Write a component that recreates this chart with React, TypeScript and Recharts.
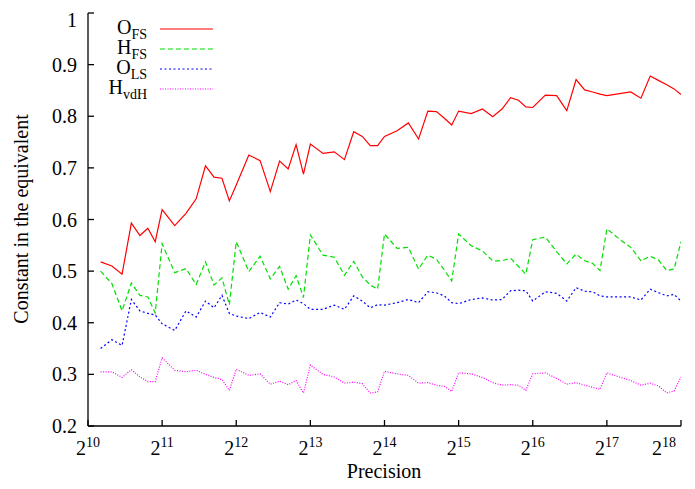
import { LineChart, Line, XAxis, YAxis, Customized } from "recharts";

const precision = [
  1152, 1280, 1408, 1536, 1664, 1792, 1920, 2048,
  2304, 2560, 2816, 3072, 3328, 3584, 3840, 4096,
  4608, 5120, 5632, 6144, 6656, 7168, 7680, 8192,
  9216, 10240, 11264, 12288, 13312, 14336, 15360, 16384,
  18432, 20480, 22528, 24576, 26624, 28672, 30720, 32768,
  36864, 40960, 45056, 49152, 53248, 57344, 61440, 65536,
  73728, 81920, 90112, 98304, 106496, 114688, 122880, 131072,
  147456, 163840, 180224, 196608, 212992, 229376, 245760, 262144,
];

const oFS = [
  0.518, 0.51, 0.494, 0.593, 0.569, 0.583, 0.557, 0.619,
  0.588, 0.612, 0.64, 0.704, 0.682, 0.68, 0.636, 0.667,
  0.725, 0.714, 0.654, 0.713, 0.698, 0.745, 0.688, 0.746,
  0.728, 0.731, 0.716, 0.77, 0.761, 0.743, 0.743, 0.761,
  0.772, 0.787, 0.756, 0.81, 0.809, 0.796, 0.783, 0.81,
  0.805, 0.814, 0.799, 0.814, 0.836, 0.831, 0.818, 0.817,
  0.841, 0.84, 0.811, 0.871, 0.851, 0.847, 0.843, 0.84,
  0.844, 0.847, 0.835, 0.878, 0.869, 0.861, 0.853, 0.842,
];

const hFS = [
  0.5, 0.476, 0.423, 0.477, 0.453, 0.45, 0.419, 0.553,
  0.497, 0.505, 0.474, 0.518, 0.473, 0.487, 0.435, 0.557,
  0.499, 0.529, 0.485, 0.509, 0.465, 0.491, 0.449, 0.57,
  0.531, 0.527, 0.492, 0.519, 0.489, 0.473, 0.465, 0.572,
  0.544, 0.546, 0.504, 0.531, 0.523, 0.502, 0.481, 0.572,
  0.549, 0.539, 0.52, 0.52, 0.525, 0.509, 0.494, 0.561,
  0.566, 0.538, 0.514, 0.533, 0.52, 0.515, 0.501, 0.582,
  0.562, 0.546, 0.52, 0.529, 0.521, 0.501, 0.504, 0.557,
];

const oLS = [
  0.35, 0.367, 0.356, 0.445, 0.423, 0.418, 0.415, 0.398,
  0.385, 0.423, 0.411, 0.442, 0.429, 0.453, 0.418, 0.413,
  0.408, 0.42, 0.411, 0.439, 0.436, 0.444, 0.437, 0.426,
  0.426, 0.434, 0.426, 0.452, 0.442, 0.429, 0.435, 0.434,
  0.439, 0.445, 0.439, 0.46, 0.458, 0.452, 0.439, 0.437,
  0.445, 0.448, 0.444, 0.445, 0.462, 0.463, 0.462, 0.442,
  0.46, 0.457, 0.442, 0.468, 0.461, 0.46, 0.452, 0.45,
  0.45, 0.45, 0.444, 0.465, 0.458, 0.452, 0.455, 0.442,
];

const hVdH = [
  0.305, 0.305, 0.294, 0.309, 0.295, 0.286, 0.286, 0.332,
  0.308, 0.305, 0.308, 0.3, 0.294, 0.29, 0.269, 0.31,
  0.298, 0.301, 0.281, 0.287, 0.28, 0.288, 0.264, 0.318,
  0.3, 0.295, 0.283, 0.285, 0.282, 0.264, 0.266, 0.306,
  0.301, 0.298, 0.283, 0.284, 0.279, 0.277, 0.267, 0.303,
  0.301, 0.294, 0.284, 0.279, 0.28, 0.279, 0.269, 0.301,
  0.303, 0.292, 0.281, 0.284, 0.279, 0.275, 0.271, 0.303,
  0.295, 0.288, 0.279, 0.283, 0.277, 0.264, 0.268, 0.295,
];

const xTicks = [1024, 2048, 4096, 8192, 16384, 32768, 65536, 131072, 262144];
const yTicks = [0.2, 0.3, 0.4, 0.5, 0.6, 0.7, 0.8, 0.9, 1.0];

const series = [
  { key: "oFS", name: "O", sub: "FS", color: "#ff0000", dash: undefined },
  { key: "hFS", name: "H", sub: "FS", color: "#00e000", dash: "5 3" },
  { key: "oLS", name: "O", sub: "LS", color: "#0000ff", dash: "2 2.5" },
  { key: "hVdH", name: "H", sub: "vdH", color: "#ff00ff", dash: "1 1.5" },
];

const data = precision.map((p, i) => ({
  p,
  oFS: oFS[i],
  hFS: hFS[i],
  oLS: oLS[i],
  hVdH: hVdH[i],
}));

const FONT = "'Liberation Serif', 'Times New Roman', serif";

function PowTick(props: any) {
  const { x, payload } = props;
  const exp = Math.round(Math.log2(payload.value));
  return (
    <text x={x} y={447} textAnchor="middle" fontFamily={FONT} fontSize={20} fill="#000">
      <tspan>2</tspan>
      <tspan dy={-8} fontSize={14}>
        {exp}
      </tspan>
    </text>
  );
}

function Decorations() {
  return (
    <g fontFamily={FONT} fill="#000">
      {series.map((s, i) => (
        <g key={s.key}>
          <text x={139} y={26 + i * 20} textAnchor="end" fontSize={20}>
            <tspan>{s.name}</tspan>
            <tspan dy={5} fontSize={14}>
              {s.sub}
            </tspan>
          </text>
          <line
            x1={152}
            x2={205}
            y1={21 + i * 20}
            y2={21 + i * 20}
            stroke={s.color}
            strokeWidth={1.2}
            strokeDasharray={s.dash}
          />
        </g>
      ))}
      <text
        transform="translate(20,211) rotate(-90)"
        textAnchor="middle"
        fontSize={20}
      >
        Constant in the equivalent
      </text>
      <text x={376} y={470} textAnchor="middle" fontSize={20}>
        Precision
      </text>
    </g>
  );
}

export default function App() {
  return (
    <LineChart
      width={680}
      height={480}
      data={data}
      margin={{ top: 5, right: 7, bottom: 0, left: 0 }}
    >
      <XAxis
        dataKey="p"
        type="number"
        scale="log"
        domain={[1024, 262144]}
        ticks={xTicks}
        allowDataOverflow
        height={62}
        tickSize={-6}
        tick={<PowTick />}
        stroke="#000"
        strokeWidth={1.3}
      />
      <XAxis
        xAxisId="top"
        orientation="top"
        dataKey="p"
        type="number"
        scale="log"
        domain={[1024, 262144]}
        ticks={xTicks}
        allowDataOverflow
        height={0}
        tickSize={-6}
        tick={false}
        stroke="#000"
        strokeWidth={1.3}
      />
      <YAxis
        domain={[0.2, 1]}
        ticks={yTicks}
        width={80}
        tickSize={-6}
        tickMargin={17}
        tickFormatter={(v: number) => String(+v.toFixed(1))}
        tick={{ fill: "#000", fontSize: 20, fontFamily: FONT }}
        stroke="#000"
        strokeWidth={1.3}
      />
      <YAxis
        yAxisId="right"
        orientation="right"
        domain={[0.2, 1]}
        ticks={yTicks}
        width={0}
        tickSize={-6}
        tick={false}
        stroke="#000"
        strokeWidth={1.3}
      />
      {series.map((s) => (
        <Line
          key={s.key}
          dataKey={s.key}
          stroke={s.color}
          strokeWidth={1.2}
          strokeDasharray={s.dash}
          dot={false}
          activeDot={false}
          type="linear"
          isAnimationActive={false}
        />
      ))}
      <Customized component={<Decorations />} />
    </LineChart>
  );
}
